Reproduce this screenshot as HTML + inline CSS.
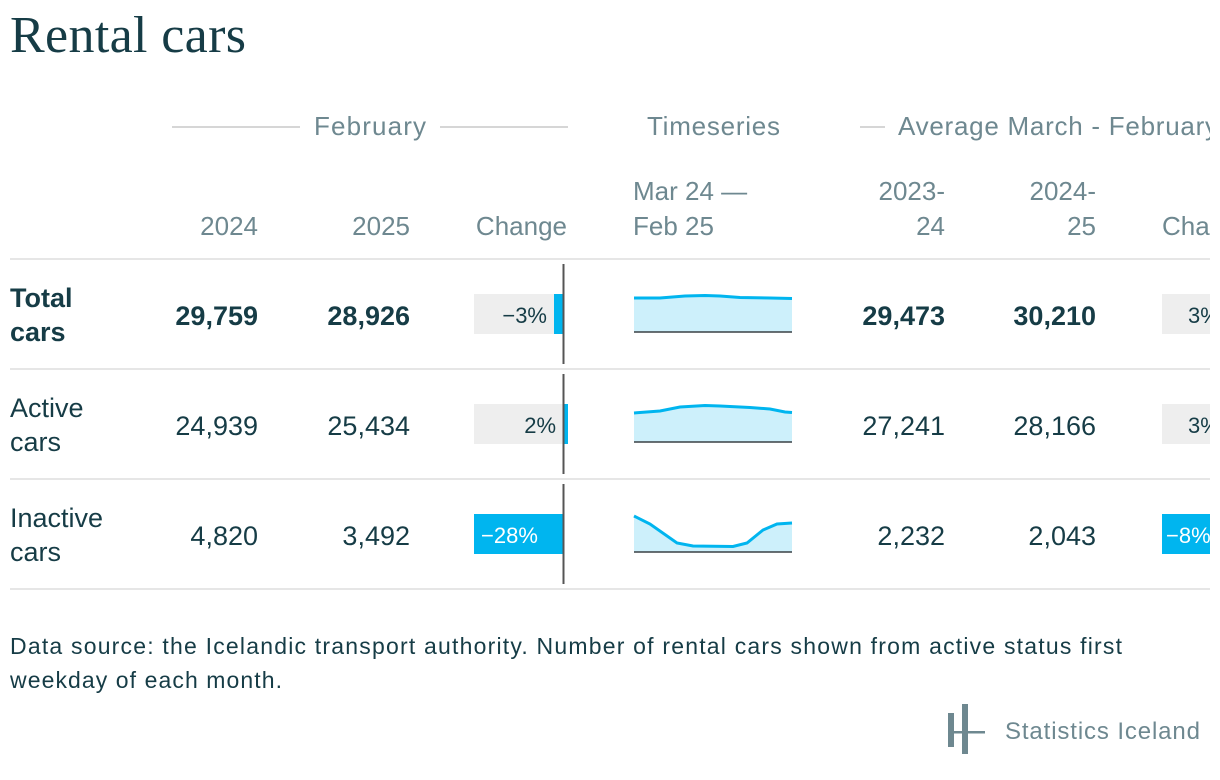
<!DOCTYPE html>
<html><head><meta charset="utf-8"><style>
html,body{margin:0;padding:0;background:#fff;width:1220px;height:780px;overflow:hidden}
svg{display:block}
text{font-family:"Liberation Sans",sans-serif}
.h{fill:#6e8890;font-size:26px}
.v{fill:#163c46;font-size:27px}
.b{font-weight:bold}
.p{font-size:22px}
</style></head><body>
<svg width="1220" height="780" viewBox="0 0 1220 780">
<defs><clipPath id="c"><rect x="0" y="0" width="1210" height="780"/></clipPath></defs>
<g clip-path="url(#c)">
<text x="10" y="52" textLength="236" style="font-family:'Liberation Serif',serif;font-size:52px;fill:#163c46">Rental cars</text>
<line x1="172" y1="127" x2="300" y2="127" stroke="#c8c8c8" stroke-width="1.5"/>
<line x1="440" y1="127" x2="568" y2="127" stroke="#c8c8c8" stroke-width="1.5"/>
<text class="h" x="314" y="135" textLength="112">February</text>
<text class="h" x="647" y="135" textLength="133">Timeseries</text>
<line x1="860" y1="127" x2="885" y2="127" stroke="#c8c8c8" stroke-width="1.5"/>
<text class="h" x="898" y="135" textLength="320">Average March - February</text>
<text class="h" x="258" y="235" text-anchor="end">2024</text>
<text class="h" x="410" y="235" text-anchor="end">2025</text>
<text class="h" x="567" y="235" text-anchor="end">Change</text>
<text class="h" x="633" y="200">Mar 24 —</text>
<text class="h" x="633" y="235">Feb 25</text>
<text class="h" x="945" y="200" text-anchor="end">2023-</text>
<text class="h" x="945" y="235" text-anchor="end">24</text>
<text class="h" x="1096" y="200" text-anchor="end">2024-</text>
<text class="h" x="1096" y="235" text-anchor="end">25</text>
<text class="h" x="1162" y="235">Change</text>
<g stroke="#e6e6e6" stroke-width="2">
<line x1="10" y1="259" x2="1220" y2="259"/>
<line x1="10" y1="369" x2="1220" y2="369"/>
<line x1="10" y1="479" x2="1220" y2="479"/>
<line x1="10" y1="589" x2="1220" y2="589"/>
</g>
<text class="v b" x="10" y="307">Total</text>
<text class="v b" x="10" y="341">cars</text>
<text class="v b" x="258" y="325" text-anchor="end">29,759</text>
<text class="v b" x="410" y="325" text-anchor="end">28,926</text>
<rect x="474" y="294" width="90" height="40" fill="#eeeeee"/>
<rect x="554" y="294" width="10" height="40" fill="#00b5ef"/>
<text class="v p" x="547" y="323" text-anchor="end">−3%</text>
<line x1="563.5" y1="264" x2="563.5" y2="364" stroke="#555" stroke-width="2"/>
<path d="M634,298 L660,298 L685,296 L705,295.5 L720,296 L740,297.5 L770,298 L792,298.5 L792,332 L634,332Z" fill="#cdf0fb"/>
<path d="M634,298 L660,298 L685,296 L705,295.5 L720,296 L740,297.5 L770,298 L792,298.5" fill="none" stroke="#00b5ef" stroke-width="3"/>
<line x1="634" y1="332" x2="792" y2="332" stroke="#3a4045" stroke-width="1.5"/>
<text class="v b" x="945" y="325" text-anchor="end">29,473</text>
<text class="v b" x="1096" y="325" text-anchor="end">30,210</text>
<rect x="1162" y="294" width="60" height="40" fill="#eeeeee"/>
<text class="v p" x="1188" y="323">3%</text>
<text class="v" x="10" y="417">Active</text>
<text class="v" x="10" y="451">cars</text>
<text class="v" x="258" y="435" text-anchor="end">24,939</text>
<text class="v" x="410" y="435" text-anchor="end">25,434</text>
<rect x="474" y="404" width="90" height="40" fill="#eeeeee"/>
<rect x="563" y="404" width="5" height="40" fill="#00b5ef"/>
<text class="v p" x="556" y="433" text-anchor="end">2%</text>
<line x1="563.5" y1="374" x2="563.5" y2="474" stroke="#555" stroke-width="2"/>
<path d="M634,413 L660,411 L680,407 L705,405.5 L720,406 L750,407.5 L770,409 L785,412 L792,412.5 L792,442 L634,442Z" fill="#cdf0fb"/>
<path d="M634,413 L660,411 L680,407 L705,405.5 L720,406 L750,407.5 L770,409 L785,412 L792,412.5" fill="none" stroke="#00b5ef" stroke-width="3"/>
<line x1="634" y1="442" x2="792" y2="442" stroke="#3a4045" stroke-width="1.5"/>
<text class="v" x="945" y="435" text-anchor="end">27,241</text>
<text class="v" x="1096" y="435" text-anchor="end">28,166</text>
<rect x="1162" y="404" width="60" height="40" fill="#eeeeee"/>
<text class="v p" x="1188" y="433">3%</text>
<text class="v" x="10" y="527">Inactive</text>
<text class="v" x="10" y="561">cars</text>
<text class="v" x="258" y="545" text-anchor="end">4,820</text>
<text class="v" x="410" y="545" text-anchor="end">3,492</text>
<rect x="474" y="514" width="90" height="40" fill="#eeeeee"/>
<rect x="474" y="514" width="89" height="40" fill="#00b5ef"/>
<text class="p" x="481" y="543" style="fill:#fff">−28%</text>
<line x1="563.5" y1="484" x2="563.5" y2="584" stroke="#555" stroke-width="2"/>
<path d="M634,516 L650,524 L677,543 L693,546 L733,546.5 L747,543 L763,530 L777,524 L792,523 L792,552 L634,552Z" fill="#cdf0fb"/>
<path d="M634,516 L650,524 L677,543 L693,546 L733,546.5 L747,543 L763,530 L777,524 L792,523" fill="none" stroke="#00b5ef" stroke-width="3"/>
<line x1="634" y1="552" x2="792" y2="552" stroke="#3a4045" stroke-width="1.5"/>
<text class="v" x="945" y="545" text-anchor="end">2,232</text>
<text class="v" x="1096" y="545" text-anchor="end">2,043</text>
<rect x="1162" y="514" width="60" height="40" fill="#00b5ef"/>
<text class="p" x="1166" y="543" style="fill:#fff">−8%</text>
<text x="10" y="654" textLength="1112" style="font-size:23px;fill:#163c46">Data source: the Icelandic transport authority. Number of rental cars shown from active status first</text>
<text x="10" y="688" textLength="272" style="font-size:23px;fill:#163c46">weekday of each month.</text>
<rect x="948" y="713" width="6" height="34" fill="#6e8890"/>
<rect x="962" y="704" width="6" height="50" fill="#6e8890"/>
<rect x="948" y="731" width="37" height="2.5" fill="#6e8890"/>
<text x="1005" y="739" textLength="195" style="font-size:24px;fill:#6e8890">Statistics Iceland</text>
</g>
</svg>
</body></html>
